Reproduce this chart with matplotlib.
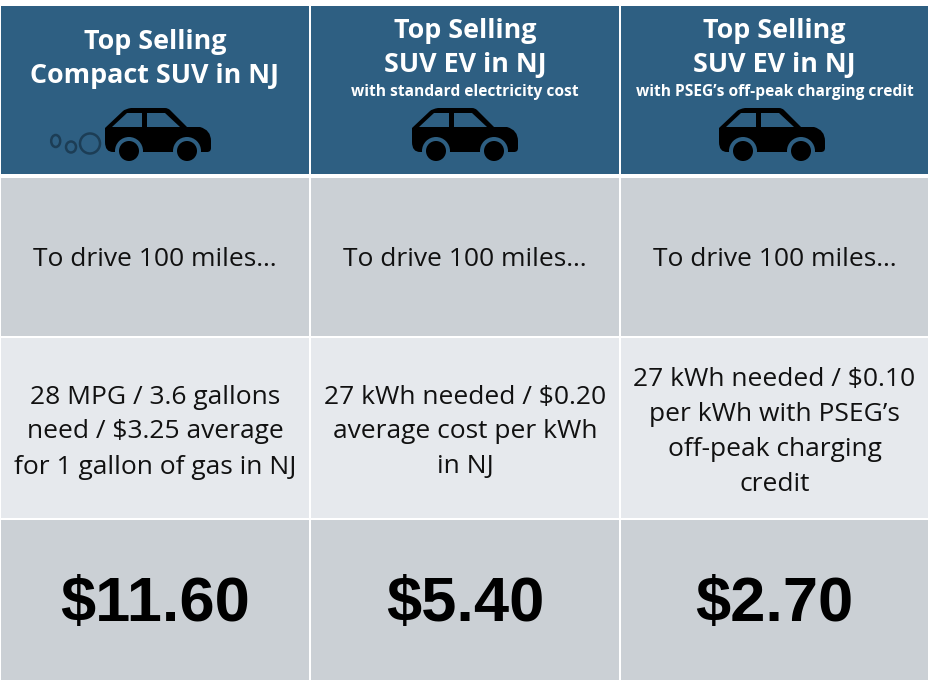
"""EV vs gas cost-per-100-miles comparison table, drawn in pixel coords."""
import matplotlib
matplotlib.use("Agg")
import matplotlib.pyplot as plt
from matplotlib.patches import Circle, Ellipse, PathPatch, Polygon, Rectangle
from matplotlib.path import Path

HEADER_TITLES = ["Top Selling\nCompact SUV in NJ", "Top Selling\nSUV EV in NJ", "Top Selling\nSUV EV in NJ"]
HEADER_SUBS = ["", "with standard electricity cost", "with PSEG\u2019s off-peak charging credit"]
DRIVE_TEXT = ["To drive 100 miles\u2026"] * 3
DETAILS = [
    "28 MPG / 3.6 gallons\nneed / $3.25 average\nfor 1 gallon of gas in NJ",
    "27 kWh needed / $0.20\naverage cost per kWh\nin NJ",
    "27 kWh needed / $0.10\nper kWh with PSEG\u2019s\noff-peak charging\ncredit",
]
PRICES = ["$11.60", "$5.40", "$2.70"]

HEADER_COLOR = "#2e5f82"
DARK_ROW = "#cbd0d5"
LIGHT_ROW = "#e6e9ed"

# left, right pixel edge of each column
COLS = [(1, 309), (311, 619), (621, 928)]
CAR_LEFT = [105, 412, 719]
CAR_TOP = 108

plt.rcParams["font.family"] = ["Open Sans", "DejaVu Sans"]


def draw_car(ax, x0, y0):
    def pt(x, y):
        return (x0 + x, y0 + y)

    verts = [pt(0, 20), pt(18, 3), pt(20, 1), pt(26, 0), pt(60, 0), pt(63, 0), pt(65, 2),
             pt(82, 19), pt(95, 19), pt(106, 22), pt(106, 33), pt(106, 40), pt(106, 44),
             pt(102, 44), pt(8, 44), pt(0, 44), pt(0, 34), pt(0, 20)]
    codes = [Path.MOVETO, Path.LINETO, Path.CURVE3, Path.CURVE3, Path.LINETO, Path.CURVE3, Path.CURVE3,
             Path.LINETO, Path.LINETO, Path.CURVE3, Path.CURVE3, Path.LINETO, Path.CURVE3,
             Path.CURVE3, Path.LINETO, Path.CURVE3, Path.CURVE3, Path.CLOSEPOLY]
    ax.add_patch(PathPatch(Path(verts, codes), fc="black", ec="none", zorder=3))
    ax.add_patch(Polygon([pt(7, 19), pt(22, 5), pt(37, 5), pt(37, 19)], fc=HEADER_COLOR, ec="none", zorder=4))
    ax.add_patch(Polygon([pt(42, 5), pt(60, 5), pt(75, 19), pt(42, 19)], fc=HEADER_COLOR, ec="none", zorder=4))
    for wx in (24, 82):
        ax.add_patch(Circle(pt(wx, 43), 14, fc=HEADER_COLOR, ec="none", zorder=4))
        ax.add_patch(Circle(pt(wx, 43), 10, fc="black", ec="none", zorder=5))


fig = plt.figure(figsize=(9.34, 6.88), dpi=100, facecolor="white")
ax = fig.add_axes([0, 0, 1, 1])
ax.set_xlim(0, 934)
ax.set_ylim(688, 0)
ax.axis("off")

for i, (left, right) in enumerate(COLS):
    w = right - left
    cx = (left + right) / 2
    ax.add_patch(Rectangle((left, 6), w, 168, fc=HEADER_COLOR, ec="none"))
    ax.add_patch(Rectangle((left, 178), w, 158, fc=DARK_ROW, ec="none"))
    ax.add_patch(Rectangle((left, 338), w, 180, fc=LIGHT_ROW, ec="none"))
    ax.add_patch(Rectangle((left, 520), w, 160, fc=DARK_ROW, ec="none"))

    first, second = HEADER_TITLES[i].split("\n")
    top = 42 if not HEADER_SUBS[i] else 31
    ax.text(cx, top, first, color="white", fontsize=19.4, fontweight="bold", ha="center", va="center")
    ax.text(cx, top + 34, second, color="white", fontsize=19.4, fontweight="bold", ha="center", va="center")
    if HEADER_SUBS[i]:
        ax.text(cx, 92, HEADER_SUBS[i], color="white", fontsize=11.2, fontweight="bold", ha="center", va="center")

    draw_car(ax, CAR_LEFT[i], CAR_TOP)

    ax.text(cx, 260, DRIVE_TEXT[i], color="#111111", fontsize=19, ha="center", va="center")

    lines = DETAILS[i].split("\n")
    y0 = 432 - 35 * (len(lines) - 1) / 2
    for k, line in enumerate(lines):
        ax.text(cx, y0 + 35 * k, line, color="#111111", fontsize=19, ha="center", va="center")

    ax.text(cx, 605, PRICES[i], color="black", fontsize=45.5, fontweight="bold",
            family="Liberation Sans", ha="center", va="center")

# exhaust puffs behind the gas car
for (ex, ey, ew, eh) in [(55.7, 141, 9, 12), (71, 147, 10, 11), (90, 143.5, 20, 20)]:
    ax.add_patch(Ellipse((ex, ey), ew, eh, fc="none", ec="#1c3d55", lw=1.8, zorder=3))

fig.savefig("out.png", dpi=100)
